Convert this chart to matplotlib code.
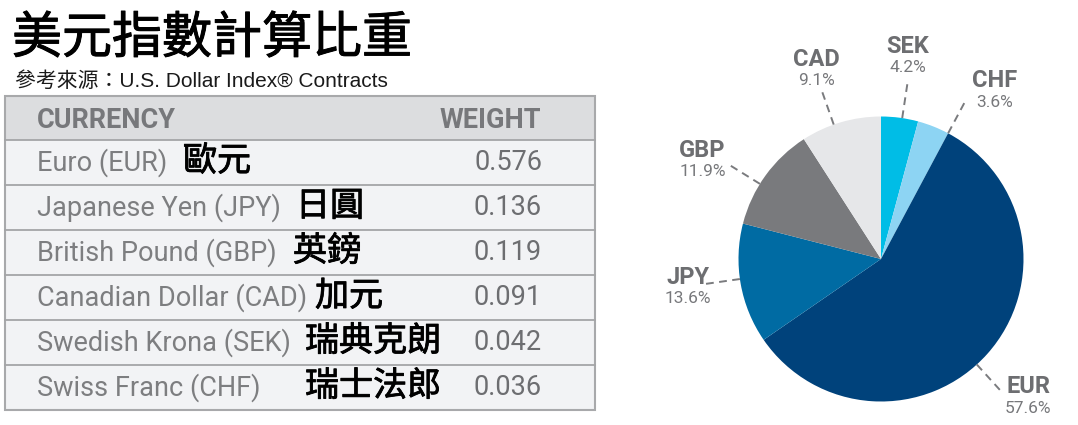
import numpy as np
import matplotlib
matplotlib.use("Agg")
import matplotlib.pyplot as plt
import matplotlib.patheffects as pe
from matplotlib.patches import Rectangle

# table order
codes = ['EUR', 'JPY', 'GBP', 'CAD', 'SEK', 'CHF']
names_en = ['Euro (EUR)', 'Japanese Yen (JPY)', 'British Pound (GBP)',
            'Canadian Dollar (CAD)', 'Swedish Krona (SEK)', 'Swiss Franc (CHF)']
names_zh = ['歐元', '日圓', '英鎊', '加元', '瑞典克朗', '瑞士法郎']
weights = [0.576, 0.136, 0.119, 0.091, 0.042, 0.036]

# pie goes clockwise from 12 o'clock in this order
pie_order = ['SEK', 'CHF', 'EUR', 'JPY', 'GBP', 'CAD']
pie_colors = {'SEK': '#00bde6', 'CHF': '#8dd4f3', 'EUR': '#00427b',
              'JPY': '#006ba3', 'GBP': '#797a7d', 'CAD': '#e6e7e9'}

title = '美元指數計算比重'
source = '參考來源：U.S. Dollar Index® Contracts'

W, H = 1078, 425
fig = plt.figure(figsize=(W / 100, H / 100), dpi=100)
fig.patch.set_facecolor('white')

# pixel overlay for title + table
ax = fig.add_axes([0, 0, 1, 1])
ax.set_xlim(0, W)
ax.set_ylim(H, 0)
ax.axis('off')

cjk = 'Noto Sans CJK TC'
latin = ['Roboto', 'Noto Sans CJK TC']
# regular CJK + thin outline ~ medium weight
medium = [pe.withStroke(linewidth=0.7, foreground='black')]

ax.text(12, 39, title, family=cjk, fontsize=36, color='black',
        va='center', ha='left', path_effects=medium)
ax.text(15, 81, source, family=['Liberation Sans', 'Noto Sans CJK TC'],
        fontsize=15, color='#1a1a1a', va='center', ha='left')

# table
tx0, tx1 = 5, 595
top, head_h, row_h = 96, 44, 45
ax.add_patch(Rectangle((tx0, top), tx1 - tx0, head_h, facecolor='#dcdddf',
                       edgecolor='none'))
ax.text(37, top + head_h / 2 + 2, 'CURRENCY', family=latin, fontsize=19.5,
        fontweight='bold', color='#77787b', va='center', ha='left')
ax.text(541, top + head_h / 2 + 2, 'WEIGHT', family=latin, fontsize=19.5,
        fontweight='bold', color='#77787b', va='center', ha='right')

zh_left = [183, 296, 293, 315, 305, 305]
for i in range(len(codes)):
    y0 = top + head_h + i * row_h
    ax.add_patch(Rectangle((tx0, y0), tx1 - tx0, row_h, facecolor='#f2f3f5',
                           edgecolor='none'))
    ax.plot([tx0, tx1], [y0, y0], color='#a4a5a7', lw=1.3)
    yc = y0 + row_h / 2
    ax.text(37, yc, names_en[i], family=latin, fontsize=19.5, color='#7d7e80',
            va='center', ha='left')
    ax.text(zh_left[i], yc - 1, names_zh[i], family=cjk, fontsize=24.5,
            color='black', va='center', ha='left',
            path_effects=[pe.withStroke(linewidth=0.6, foreground='black')])
    ax.text(542, yc, f'{weights[i]:.3f}', family=latin, fontsize=19.5,
            color='#6d6e71', va='center', ha='right')

bottom = top + head_h + len(codes) * row_h
ax.add_patch(Rectangle((tx0, top), tx1 - tx0, bottom - top, facecolor='none',
                       edgecolor='#a8a9ab', lw=1.5))

# pie
cx, cy, R, L = 881, 259, 142.5, 1.6
side = 2 * L * R
pax = fig.add_axes([(cx - side / 2) / W, (H - cy - side / 2) / H, side / W, side / H])

pie_vals = [weights[codes.index(c)] for c in pie_order]
wedges, _ = pax.pie(pie_vals, colors=[pie_colors[c] for c in pie_order],
                    startangle=90, counterclock=False, radius=1,
                    wedgeprops=dict(linewidth=0))
pax.set_xlim(-L, L)
pax.set_ylim(-L, L)
pax.set_aspect('equal')
pax.axis('off')

# small angle nudges (degrees) so labels clear each other
line_nudge = {'SEK': -1, 'CHF': -6.5, 'EUR': -6, 'JPY': -2, 'GBP': 4, 'CAD': 3}
text_nudge = {'SEK': 0, 'CHF': -12.5, 'EUR': -1.5, 'JPY': -1.5, 'GBP': 7, 'CAD': 2.5}
text_r = {'SEK': 1.43, 'CHF': 1.42, 'EUR': 1.42, 'JPY': 1.37, 'GBP': 1.43, 'CAD': 1.4}

for w, c, v in zip(wedges, pie_order, pie_vals):
    mid = (w.theta1 + w.theta2) / 2
    a = np.deg2rad(mid + line_nudge[c])
    pax.plot([np.cos(a) * 1.0, np.cos(a) * 1.27], [np.sin(a) * 1.0, np.sin(a) * 1.27],
             color='#7a7b7e', lw=1.4, dashes=(4, 2.8), clip_on=False)
    t = np.deg2rad(mid + text_nudge[c])
    x, y = np.cos(t) * text_r[c], np.sin(t) * text_r[c]
    pax.text(x, y + 0.075, c, family=latin, fontsize=17, fontweight='bold',
             color='#6d6e71', ha='center', va='center', clip_on=False)
    pax.text(x, y - 0.075, f'{v * 100:.1f}%', family=latin, fontsize=12.5,
             color='#77787b', ha='center', va='center', clip_on=False)

fig.savefig('out.png', dpi=100)
